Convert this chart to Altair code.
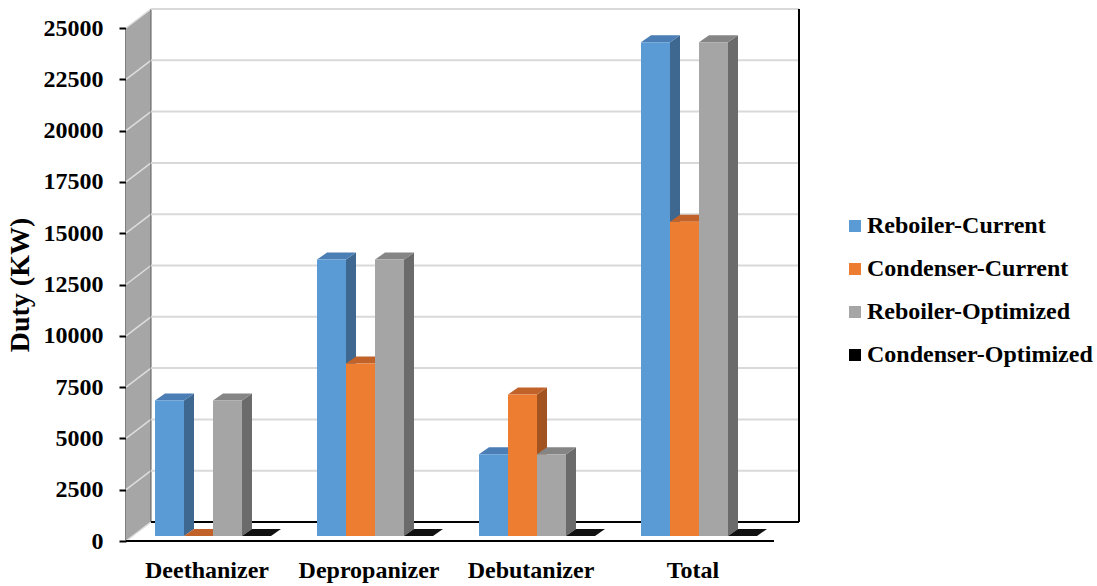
import altair as alt
import pandas as pd

# ---- data -------------------------------------------------------------
categories = ["Deethanizer", "Depropanizer", "Debutanizer", "Total"]
series = ["Reboiler-Current", "Condenser-Current", "Reboiler-Optimized", "Condenser-Optimized"]
reboiler_current = [6600, 13470, 3990, 24060]
condenser_current = [0, 8410, 6900, 15310]
reboiler_optimized = [6600, 13470, 3990, 24060]
condenser_optimized = [0, 0, 0, 0]
y_ticks = [0, 2500, 5000, 7500, 10000, 12500, 15000, 17500, 20000, 22500, 25000]

# ---- styling ----------------------------------------------------------
front_colors = ["#5B9BD5", "#ED7D31", "#A5A5A5", "#000000"]
top_colors = ["#4A7EB5", "#C0622A", "#858585", "#111111"]
side_colors = ["#3E6890", "#A3531F", "#6B6B6B", "#000000"]
FONT = "Liberation Serif, DejaVu Serif, serif"

Y_MAX = 25000
PLOT_W, PLOT_H = 648, 513
PX_X = PLOT_W / len(categories)   # pixels per category slot
PX_Y = PLOT_H / Y_MAX             # pixels per kW


def ox(px):
    return px / PX_X


def oy(px):
    return px / PX_Y


BAR_W = ox(29)
GAP = ox(23)
WALL = (ox(25), oy(19))        # depth of the 3-D box
BAR_FRONT = (ox(6), oy(5))     # bars sit slightly behind the front plane
BAR_DEPTH = (ox(10), oy(7))    # thickness of each column

values_by_series = [reboiler_current, condenser_current, reboiler_optimized, condenser_optimized]

front_rows, side_rows, top_rows = [], [], []
for i, cat in enumerate(categories):
    for j, s in enumerate(series):
        v = values_by_series[j][i]
        bid = f"b{i}{j}"
        L = i + GAP + j * BAR_W + BAR_FRONT[0]
        R = L + BAR_W
        B = BAR_FRONT[1]
        T = v + B
        ddx, ddy = BAR_DEPTH
        front_rows.append(dict(bar=bid, series=s, x=L, x2=R, y=B, y2=T))
        for x, lo, hi in [(R, B, T), (R + ddx, B + ddy, T + ddy)]:
            side_rows.append(dict(bar=bid, px=x, lo=lo, hi=hi, shade=side_colors[j]))
        for x, lo, hi in [(L, T, T), (L + ddx, T, T + ddy), (R, T, T + ddy), (R + ddx, T + ddy, T + ddy)]:
            top_rows.append(dict(bar=bid, px=x, lo=lo, hi=hi, shade=top_colors[j]))

fronts = pd.DataFrame(front_rows)
sides = pd.DataFrame(side_rows)
tops = pd.DataFrame(top_rows)

n = len(categories)
wall_df = pd.DataFrame([
    dict(x=0, lo=0, hi=Y_MAX),
    dict(x=WALL[0], lo=WALL[1], hi=Y_MAX + WALL[1]),
])
side_grid = pd.DataFrame([dict(x=0, x2=WALL[0], y=t, y2=t + WALL[1]) for t in y_ticks])
back_grid = pd.DataFrame([dict(x=WALL[0], x2=n + WALL[0], y=t + WALL[1]) for t in y_ticks[1:]])
back_floor = pd.DataFrame([dict(x=WALL[0], x2=n + WALL[0], y=WALL[1])])
front_floor = pd.DataFrame([dict(x=0, x2=n, y=0)])
right_edge = pd.DataFrame([dict(x=n + WALL[0], y=WALL[1], y2=Y_MAX + WALL[1])])
wall_back_edge = pd.DataFrame([dict(x=WALL[0], y=WALL[1], y2=Y_MAX + WALL[1])])
cat_df = pd.DataFrame(dict(cat=categories, x=[i + 0.5 for i in range(n)], y=[0] * n))

xs = alt.Scale(domain=[0, n], nice=False, zero=False)
ys = alt.Scale(domain=[0, Y_MAX], nice=False, zero=False)

y_axis = alt.Axis(
    values=y_ticks, format="d", title="Duty (KW)", grid=False,
    labelFont=FONT, labelFontSize=24, labelFontWeight="bold", labelColor="black",
    labelPadding=16,
    titleFont=FONT, titleFontSize=28, titleFontWeight="bold", titleColor="black",
    titlePadding=9,
    domainColor="black", domainWidth=2, tickColor="black", tickWidth=2, tickSize=7,
)

left_wall = alt.Chart(wall_df).mark_area(color="#A6A6A6", opacity=1).encode(
    x=alt.X("x:Q", scale=xs, axis=None),
    y=alt.Y("lo:Q", scale=ys, axis=y_axis, stack=None),
    y2="hi:Q",
)

wall_lines = alt.Chart(side_grid).mark_rule(color="#DDDDDD", strokeWidth=1.5).encode(
    x="x:Q", x2="x2:Q", y="y:Q", y2="y2:Q"
)

wall_edge = alt.Chart(wall_back_edge).mark_rule(color="#5A5A5A", strokeWidth=1).encode(
    x="x:Q", y="y:Q", y2="y2:Q"
)

grid_lines = alt.Chart(back_grid).mark_rule(color="#D9D9D9", strokeWidth=2).encode(
    x="x:Q", x2="x2:Q", y="y:Q"
)

floor_back = alt.Chart(back_floor).mark_rule(color="black", strokeWidth=2).encode(
    x="x:Q", x2="x2:Q", y="y:Q"
)

floor_front = alt.Chart(front_floor).mark_rule(color="black", strokeWidth=2).encode(
    x="x:Q", x2="x2:Q", y="y:Q"
)

right_wall = alt.Chart(right_edge).mark_rule(color="black", strokeWidth=2).encode(
    x="x:Q", y="y:Q", y2="y2:Q"
)


def faces(df):
    # one closed parallelogram per bar, outlined by its lower and upper edges
    return alt.Chart(df).mark_area(opacity=1, interpolate="linear").encode(
        x=alt.X("px:Q"),
        y=alt.Y("lo:Q", stack=None),
        y2=alt.Y2("hi:Q"),
        detail=alt.Detail("bar:N"),
        color=alt.Color("shade:N", scale=None, legend=None),
    )


side_faces = faces(sides)
top_faces = faces(tops)

front_faces = alt.Chart(fronts).mark_rect(opacity=1).encode(
    x="x:Q", x2="x2:Q", y="y:Q", y2="y2:Q",
    fill=alt.Fill(
        "series:N",
        scale=alt.Scale(domain=series, range=front_colors),
        legend=alt.Legend(
            title=None, orient="none", legendX=717, legendY=186,
            symbolType="square", symbolSize=144, symbolStrokeWidth=0,
            labelFont=FONT, labelFontSize=24, labelFontWeight="bold", labelColor="black",
            labelOffset=0, rowPadding=19, padding=0, labelLimit=400,
        ),
    ),
)

cat_labels = alt.Chart(cat_df).mark_text(
    font=FONT, fontSize=24, fontWeight="bold", color="black", dy=37, baseline="alphabetic"
).encode(x="x:Q", y="y:Q", text="cat:N")

chart = alt.layer(
    left_wall, wall_lines, wall_edge, grid_lines, floor_back, right_wall, floor_front,
    side_faces, top_faces, front_faces, cat_labels,
).properties(
    width=PLOT_W, height=PLOT_H,
    autosize=alt.AutoSizeParams(type="none"),
    padding={"left": 126, "top": 28, "right": 323, "bottom": 45},
    background="white",
).resolve_scale(color="independent", fill="independent").configure_view(stroke=None)

chart.save("out.html", embed_options={"renderer": "svg", "actions": False})
